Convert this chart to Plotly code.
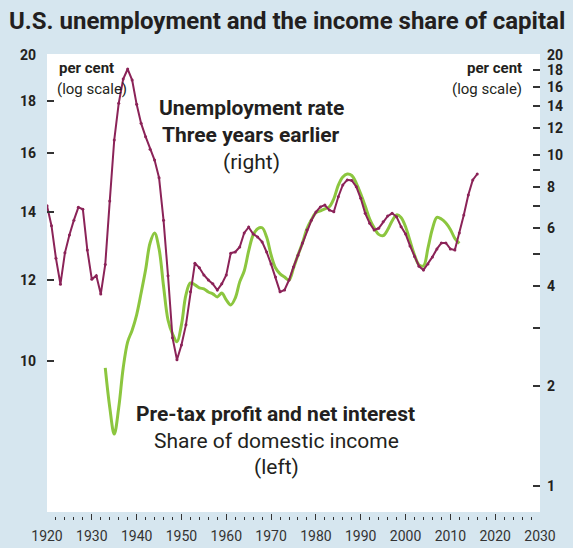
import math
import plotly.graph_objects as go

# Unemployment rate, three years earlier (right axis, per cent, log scale)
unemp_years = list(range(1920, 2017))
unemp_values = [
    7.01, 6.10, 4.86, 4.06, 5.05, 5.72, 6.34, 6.93, 6.84, 5.15,
    4.20, 4.31, 3.79, 4.66, 7.24, 11.07, 14.29, 16.92, 18.14, 16.80,
    14.19, 12.43, 11.33, 10.38, 9.63, 8.52, 6.34, 4.31, 2.80, 2.40,
    2.66, 3.06, 3.85, 4.70, 4.55, 4.33, 4.18, 4.07, 3.90, 4.07,
    4.33, 5.04, 5.08, 5.26, 5.80, 6.04, 5.76, 5.64, 5.45, 5.08,
    4.67, 4.27, 3.85, 3.90, 4.18, 4.58, 4.97, 5.41, 5.92, 6.34,
    6.71, 6.95, 7.04, 6.80, 6.72, 7.46, 8.10, 8.39, 8.36, 8.00,
    7.38, 6.65, 6.20, 5.92, 5.99, 6.27, 6.52, 6.65, 6.49, 6.06,
    5.76, 5.30, 4.92, 4.60, 4.48, 4.67, 4.91, 5.19, 5.41, 5.41,
    5.19, 5.15, 5.80, 6.57, 7.55, 8.39, 8.74,
]

# Pre-tax profit and net interest, share of domestic income (left axis, per cent, log scale)
profit_years = list(range(1933, 2013))
profit_values = [
    9.84, 9.00, 8.47, 8.99, 9.84, 10.44, 10.72, 11.10, 11.66, 12.29,
    13.06, 13.36, 12.89, 11.85, 10.97, 10.63, 10.44, 10.85, 11.61, 11.93,
    11.88, 11.80, 11.77, 11.69, 11.64, 11.56, 11.66, 11.48, 11.35, 11.53,
    11.96, 12.26, 12.83, 13.30, 13.49, 13.52, 13.24, 12.71, 12.34, 12.18,
    12.09, 12.01, 12.34, 12.71, 13.06, 13.49, 13.77, 13.99, 14.05, 14.11,
    14.18, 14.44, 14.89, 15.17, 15.27, 15.22, 14.96, 14.60, 14.20, 13.79,
    13.52, 13.32, 13.28, 13.46, 13.73, 13.92, 13.84, 13.55, 13.12, 12.71,
    12.43, 12.40, 12.91, 13.49, 13.84, 13.79, 13.67, 13.47, 13.20, 13.05,
]

x_tick_vals = list(range(1920, 2031, 10))
x_tick_text = [str(v) for v in x_tick_vals]
left_tick_vals = [10, 12, 14, 16, 18, 20]
left_tick_text = ["10", "12", "14", "16", "18", "20"]
right_tick_vals = [1, 2, 3, 4, 5, 6, 7, 8, 9, 10, 12, 14, 16, 18, 20]
right_tick_text = ["1", "2", "", "4", "", "6", "", "8", "", "10", "12", "14", "16", "18", "20"]

BG = "#d6e6ef"
INK = "#231f20"
PURPLE = "#8b2358"
GREEN = "#8cc63f"
FONT = "Roboto"

W, H = 573, 548
L, R, T, B = 47, 33, 54, 28
PW, PH = W - L - R, H - T - B


def px(x):
    return (x - L) / PW


def py(y):
    return (H - B - y) / PH


fig = go.Figure()

fig.add_trace(go.Scatter(
    x=unemp_years, y=unemp_values, yaxis="y2", mode="lines+markers",
    line=dict(color=PURPLE, width=2), marker=dict(color=PURPLE, size=3),
    showlegend=False, hoverinfo="skip",
))
fig.add_trace(go.Scatter(
    x=profit_years, y=profit_values, yaxis="y", mode="lines",
    line=dict(color=GREEN, width=3, shape="spline", smoothing=1),
    showlegend=False, hoverinfo="skip",
))

white_bottom = 512
dom0 = (H - B - white_bottom) / PH
l_top = math.log10(20) + (55 - T) / 1016
l_bot = math.log10(20) - (white_bottom - 55) / 1016
r_top = math.log10(20) + (55 - T) / 331
r_bot = math.log10(20) - (white_bottom - 55) / 331

tickfont = dict(family=FONT, size=14, color=INK, weight="bold")

fig.update_layout(
    width=W, height=H,
    margin=dict(l=L, r=R, t=T, b=B, autoexpand=False),
    paper_bgcolor=BG, plot_bgcolor="white",
    font=dict(family=FONT, color=INK),
    xaxis=dict(
        range=[1920, 2030], anchor="free", position=0, automargin=False,
        tickvals=x_tick_vals, ticktext=x_tick_text,
        ticks="inside", ticklen=6, tickwidth=1.2, tickcolor="#333",
        minor=dict(dtick=2, tick0=1920, ticks="inside", ticklen=3, tickwidth=1, tickcolor="#333"),
        showgrid=False, zeroline=False, showline=False,
        tickfont=dict(family=FONT, size=14, color="#333"),
        ticklabelstandoff=6,
    ),
    yaxis=dict(
        type="log", range=[l_bot, l_top], domain=[dom0, 1], automargin=False,
        tickvals=left_tick_vals, ticktext=left_tick_text,
        ticks="inside", ticklen=7, tickwidth=1.5, tickcolor="#333",
        showgrid=False, zeroline=False, showline=False,
        tickfont=tickfont, ticklabelstandoff=10,
    ),
    yaxis2=dict(
        type="log", range=[r_bot, r_top], overlaying="y", side="right", automargin=False,
        tickvals=right_tick_vals, ticktext=right_tick_text,
        ticks="inside", ticklen=7, tickwidth=1.5, tickcolor="#333",
        showgrid=False, zeroline=False, showline=False,
        tickfont=tickfont, ticklabelstandoff=6,
    ),
)


def note(text, x, y, size, bold=False, anchor="center"):
    fig.add_annotation(
        text=f"<b>{text}</b>" if bold else text,
        x=px(x), y=py(y), xref="paper", yref="paper",
        xanchor=anchor, yanchor="middle", showarrow=False,
        font=dict(family=FONT, size=size, color=INK),
    )


note("U.S. unemployment and the income share of capital", 7, 21, 24, bold=True, anchor="left")
note("per cent", 57, 68, 15, bold=True, anchor="left")
note("(log scale)", 55, 89, 15, anchor="left")
note("per cent", 524, 68, 15, bold=True, anchor="right")
note("(log scale)", 524, 89, 15, anchor="right")
note("Unemployment rate", 251, 108, 21, bold=True)
note("Three years earlier", 251, 135, 21, bold=True)
note("(right)", 251, 162, 21)
note("Pre-tax profit and net interest", 275, 414, 21, bold=True)
note("Share of domestic income", 276, 441, 21)
note("(left)", 276, 467, 21)

fig.write_html(
    "out.html",
    config={"displayModeBar": False},
    post_script="document.body.style.margin='0';document.body.style.padding='0';",
)
